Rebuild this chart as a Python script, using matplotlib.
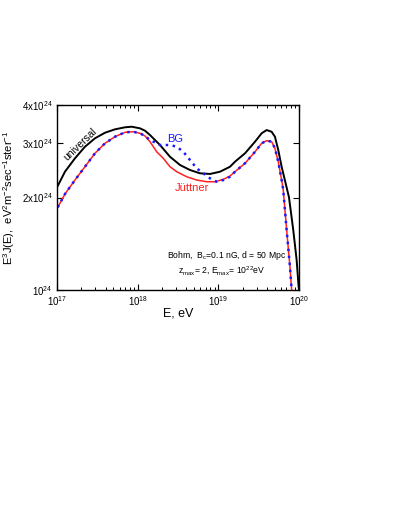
import numpy as np
import matplotlib
matplotlib.use("Agg")
import matplotlib.pyplot as plt
from matplotlib.ticker import FixedLocator, NullFormatter, LogLocator

plt.rcParams['font.family'] = ['Liberation Sans', 'DejaVu Sans']
plt.rcParams['mathtext.default'] = 'regular'

# log10(E/eV) and E^3 J(E) in units of 1e24 eV^2 m^-2 s^-1 sr^-1
lgE_univ = [17.009, 17.099, 17.223, 17.347, 17.471, 17.595, 17.719, 17.843, 17.926, 18.029,
            18.091, 18.153, 18.277, 18.401, 18.525, 18.649, 18.773, 18.897, 19.021, 19.145,
            19.207, 19.331, 19.455, 19.537, 19.599, 19.661, 19.702, 19.743, 19.785, 19.830,
            19.876, 19.929, 19.971, 19.994, 20.012]
J_univ = [2.181, 2.427, 2.683, 2.927, 3.117, 3.250, 3.334, 3.385, 3.400, 3.359,
          3.300, 3.195, 2.964, 2.715, 2.552, 2.458, 2.398, 2.386, 2.427, 2.519,
          2.616, 2.786, 3.039, 3.236, 3.316, 3.274, 3.155, 2.856, 2.519, 2.251,
          2.003, 1.568, 1.252, 1.038, 0.928]

lgE_jut = [17.009, 17.099, 17.223, 17.347, 17.471, 17.595, 17.719, 17.843, 17.946, 18.029,
           18.091, 18.153, 18.236, 18.318, 18.401, 18.484, 18.608, 18.732, 18.856, 18.959,
           19.062, 19.145, 19.207, 19.331, 19.455, 19.537, 19.599, 19.661, 19.702, 19.743,
           19.785, 19.805, 19.847, 19.888, 19.909, 19.919]
J_jut = [1.858, 2.053, 2.280, 2.519, 2.786, 3.002, 3.155, 3.260, 3.274, 3.236,
         3.172, 3.039, 2.818, 2.683, 2.519, 2.427, 2.337, 2.280, 2.251, 2.251,
         2.292, 2.350, 2.427, 2.585, 2.818, 3.002, 3.062, 3.039, 2.892, 2.616,
         2.280, 2.116, 1.568, 1.191, 1.000, 0.928]

lgE_bg = [17.009, 17.099, 17.223, 17.347, 17.471, 17.595, 17.719, 17.843, 17.946, 18.029,
          18.091, 18.153, 18.277, 18.401, 18.484, 18.566, 18.649, 18.732, 18.814, 18.897,
          18.980, 19.062, 19.145, 19.207, 19.331, 19.455, 19.537, 19.599, 19.661, 19.702,
          19.743, 19.785, 19.805, 19.847, 19.888, 19.909, 19.919]
J_bg = [1.858, 2.053, 2.280, 2.519, 2.786, 3.002, 3.155, 3.260, 3.274, 3.236,
        3.172, 3.078, 2.964, 2.964, 2.927, 2.818, 2.649, 2.489, 2.398, 2.309,
        2.251, 2.280, 2.337, 2.427, 2.585, 2.818, 3.002, 3.062, 3.039, 2.892,
        2.616, 2.280, 2.116, 1.568, 1.191, 1.000, 0.928]

yticks = [1, 2, 3, 4]
ytick_labels = [r'10$^{24}$', r'2x10$^{24}$', r'3x10$^{24}$', r'4x10$^{24}$']
xticks = [1e17, 1e18, 1e19, 1e20]
xtick_labels = [r'10$^{17}$', r'10$^{18}$', r'10$^{19}$', r'10$^{20}$']

fig = plt.figure(figsize=(4.07, 5.27), dpi=100)
ax = fig.add_axes([0.140, 0.4497, 0.5946, 0.351])

ax.plot(10**np.array(lgE_univ), J_univ, color='black', lw=1.4)
ax.plot(10**np.array(lgE_jut), J_jut, color='#ff2020', lw=1.1)
ax.plot(10**np.array(lgE_bg), J_bg, color='#1a1aff', lw=1.8, linestyle=(0, (1, 1.8)))

ax.set_xscale('log')
ax.set_yscale('log')
ax.set_xlim(1e17, 1e20)
ax.set_ylim(1, 4)

ax.yaxis.set_major_locator(FixedLocator(yticks))
ax.set_yticklabels(ytick_labels)
ax.yaxis.set_minor_locator(FixedLocator([]))
ax.yaxis.set_minor_formatter(NullFormatter())
ax.xaxis.set_major_locator(FixedLocator(xticks))
ax.set_xticklabels(xtick_labels)
ax.xaxis.set_minor_locator(LogLocator(base=10, subs=np.arange(2, 10)))
ax.xaxis.set_minor_formatter(NullFormatter())

ax.tick_params(which='both', direction='in', top=True, right=True, labelsize=7, pad=3)
ax.tick_params(which='major', length=4, width=0.8)
ax.tick_params(which='minor', length=2.2, width=0.7)
for s in ax.spines.values():
    s.set_linewidth(1.0)

ax.set_xlabel('E, eV', fontsize=9, labelpad=0)
ax.set_ylabel(r'E$^3$J(E),  eV$^2$m$^{-2}$sec$^{-1}$ster$^{-1}$', fontsize=8)
ax.yaxis.set_label_coords(-0.165, 0.5)

ax.text(10**17.285, 2.99, 'universal', rotation=44, fontsize=7.5, ha='center', va='center')
ax.text(10**18.463, 3.10, 'BG', color='#1a1aff', fontsize=8, ha='center', va='center')
ax.text(10**18.673, 2.148, 'Jüttner', color='#ff2020', fontsize=8, ha='center', va='center')

ax.text(10**19.107, 1.30, r'Bohm,  B$_c$=0.1 nG, d = 50 Mpc', fontsize=6.2, ha='center', va='center')
ax.text(10**19.045, 1.16, r'z$_{max}$= 2, E$_{max}$= 10$^{22}$eV', fontsize=6.2, ha='center', va='center')

fig.savefig('out.png', dpi=100)
